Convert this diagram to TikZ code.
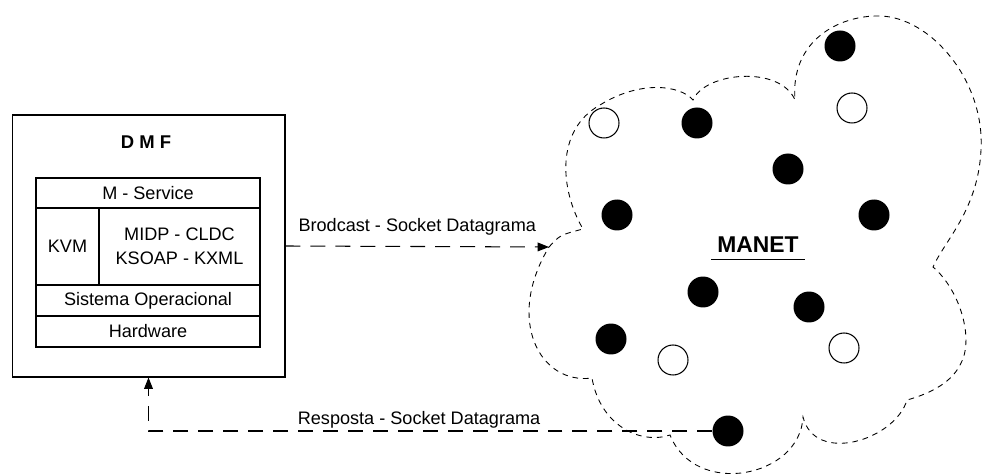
\documentclass[tikz,border=0pt]{standalone}
\usepackage{fontspec}
\setmainfont{Liberation Sans}
\usetikzlibrary{arrows.meta}

\begin{document}
\begin{tikzpicture}[x=0.02cm, y=-0.02cm, font=\fontsize{10.3}{13.6}\selectfont,
	camada/.style={draw, line width=1.1pt, minimum width=4.48cm, minimum height=0.62cm, inner sep=0pt},
	cheio/.style={circle, fill=black, minimum size=0.62cm, inner sep=0pt},
	vazio/.style={circle, draw, line width=0.6pt, minimum size=0.6cm, inner sep=0pt},
	seta/.style={-{Triangle[length=6.5pt, width=5pt]}, dash pattern=on 8.5pt off 5.7pt, line width=0.6pt},
	nuvem/.style={dash pattern=on 3.2pt off 2.8pt, line width=0.5pt}]
	\useasboundingbox (0,0) rectangle (982,475);
	% dispositivo
	\node[draw, line width=0.6pt, minimum width=5.46cm, minimum height=5.24cm] (DMF) at (148.5,246) {};
	\node[font=\fontsize{10.5}{12}\selectfont\bfseries] (T) at (146,142) {D M F};
	\node[camada, minimum height=0.6cm] (MS) at (148,193) {M - Service};
	\node[camada, minimum width=1.26cm, minimum height=1.54cm] (KVM) at (67.5,246.5) {KVM};
	\node[camada, minimum width=3.22cm, minimum height=1.54cm, align=center] (MIDP) at (179.5,246.5) {MIDP - CLDC\\KSOAP - KXML};
	\node[camada] (SO) at (148,300.5) {Sistema Operacional};
	\node[camada] (HW) at (148,331.5) {Hardware};
	% rede
	\coordinate (C1) at (549,247);
	\draw[nuvem] (C1) .. controls (560,235) .. (583,229)
		.. controls (560,190) and (555,130) .. (600,105)
		.. controls (640,80) and (680,85) .. (693,100)
		.. controls (705,72) and (780,65) .. (795,100)
		.. controls (790,40) and (840,15) .. (880,16)
		.. controls (930,17) and (985,80) .. (981,150)
		.. controls (978,210) and (945,240) .. (933,267)
		.. controls (960,290) and (975,340) .. (960,365)
		.. controls (950,385) and (925,395) .. (907,400)
		.. controls (895,440) and (815,465) .. (803,417)
		.. controls (800,478) and (695,498) .. (670,435)
		.. controls (640,445) and (600,425) .. (592,378)
		.. controls (540,385) and (505,320) .. cycle;
	\node[font=\fontsize{13}{15}\selectfont\bfseries] (M) at (758,245) {MANET};
	\draw[line width=0.6pt] (M.south west) -- (M.south east);
	\node[cheio] (N1) at (840,46) {};
	\node[cheio] (N2) at (697,123) {};
	\node[cheio] (N3) at (788,169) {};
	\node[cheio] (N4) at (617,215) {};
	\node[cheio] (N5) at (874,215) {};
	\node[cheio] (N6) at (703,292) {};
	\node[cheio] (N7) at (809,307) {};
	\node[cheio] (N8) at (611,339) {};
	\node[cheio] (N9) at (728,431) {};
	\node[vazio] (W1) at (604,123) {};
	\node[vazio] (W2) at (852,108) {};
	\node[vazio] (W3) at (673,360) {};
	\node[vazio] (W4) at (844,348) {};
	% mensagens
	\draw[seta] (DMF.east) -- node[midway, above=3pt] {Brodcast - Socket Datagrama} (C1);
	\draw[seta] (N9) -| node[pos=0.26, above=-2pt] {Resposta - Socket Datagrama} (DMF.south);
\end{tikzpicture}
\end{document}
